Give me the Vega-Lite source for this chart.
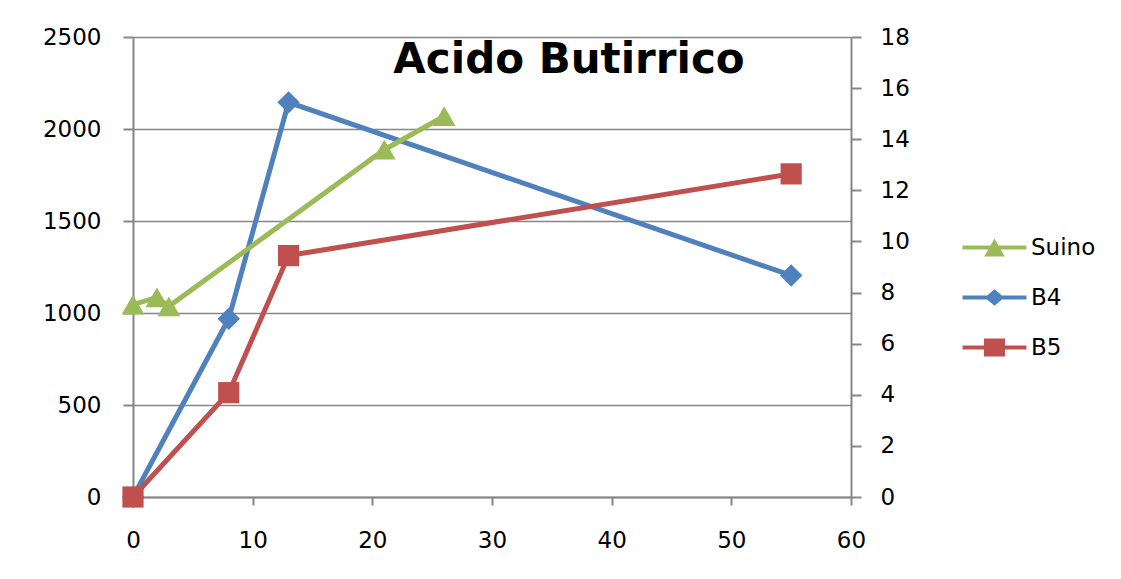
{
  "$schema": "https://vega.github.io/schema/vega-lite/v6.json",
  "width": 718,
  "height": 460,
  "autosize": {"type": "none"},
  "padding": {"left": 133, "top": 37, "right": 270, "bottom": 82},
  "background": "white",
  "title": {
    "text": "Acido Butirrico",
    "font": "DejaVu Sans",
    "fontWeight": "bold",
    "fontSize": 42,
    "color": "black",
    "anchor": "middle",
    "frame": "group",
    "baseline": "alphabetic",
    "offset": -37,
    "dx": 77,
    "dy": 52
  },
  "data": {
    "values": [
      {"series": "B4", "day": 0, "value": 0},
      {"series": "B4", "day": 8, "value": 969},
      {"series": "B4", "day": 13, "value": 2145},
      {"series": "B4", "day": 55, "value": 1204},
      {"series": "B5", "day": 0, "value": 0},
      {"series": "B5", "day": 8, "value": 567},
      {"series": "B5", "day": 13, "value": 1312},
      {"series": "B5", "day": 55, "value": 1756},
      {"series": "Suino", "day": 0, "value": 7.53},
      {"series": "Suino", "day": 2, "value": 7.81},
      {"series": "Suino", "day": 3, "value": 7.46},
      {"series": "Suino", "day": 21, "value": 13.59},
      {"series": "Suino", "day": 26, "value": 14.9}
    ]
  },
  "config": {
    "view": {"stroke": null},
    "axis": {
      "labelFont": "DejaVu Sans",
      "labelFontSize": 23,
      "labelColor": "black",
      "labelFlush": false,
      "format": "d",
      "domainColor": "#868686",
      "domainWidth": 2,
      "tickColor": "#868686",
      "tickWidth": 2,
      "tickSize": 10,
      "gridColor": "#868686",
      "gridWidth": 1.5,
      "title": null
    },
    "legend": {
      "orient": "none",
      "legendX": 850,
      "legendY": 199,
      "title": null,
      "labelFont": "DejaVu Sans",
      "labelFontSize": 23,
      "labelColor": "black",
      "symbolSize": 289,
      "rowPadding": 26,
      "labelOffset": 25,
      "padding": 0
    }
  },
  "layer": [
    {
      "transform": [{"filter": "datum.series !== 'Suino'"}],
      "encoding": {
        "x": {
          "field": "day",
          "type": "quantitative",
          "scale": {"domain": [0, 60], "nice": false},
          "axis": {"values": [0, 10, 20, 30, 40, 50, 60], "grid": false, "tickSize": 8, "labelPadding": 24}
        },
        "y": {
          "field": "value",
          "type": "quantitative",
          "scale": {"domain": [0, 2500], "nice": false},
          "axis": {"orient": "left", "values": [0, 500, 1000, 1500, 2000, 2500], "grid": true, "labelPadding": 22}
        },
        "color": {
          "field": "series",
          "type": "nominal",
          "scale": {"domain": ["Suino", "B4", "B5"], "range": ["#9BBB59", "#4F81BD", "#C0504D"]},
          "legend": {
            "encode": {
              "symbols": {
                "update": {
                  "shape": {"signal": "datum.value === 'Suino' ? 'M-3.76,-0.235H3.76V0.235H-3.76Z M-1.21,1.06L0,-1.06L1.21,1.06Z' : datum.value === 'B4' ? 'M-3.76,-0.235H3.76V0.235H-3.76Z M0,-0.96L1.15,0L0,0.96L-1.15,0Z' : 'M-3.76,-0.235H3.76V0.235H-3.76Z M-1.24,-1.06H1.24V1.06H-1.24Z'"},
                  "fill": {"scale": "color", "field": "value"},
                  "stroke": {"value": "transparent"},
                  "strokeWidth": {"value": 0},
                  "opacity": {"value": 1}
                }
              }
            }
          }
        }
      },
      "layer": [
        {"mark": {"type": "line", "strokeWidth": 5}},
        {
          "transform": [{"filter": "datum.series === 'B4'"}],
          "mark": {"type": "point", "shape": "diamond", "filled": true, "size": 500, "opacity": 1}
        },
        {
          "transform": [{"filter": "datum.series === 'B5'"}],
          "mark": {"type": "point", "shape": "square", "filled": true, "size": 450, "opacity": 1}
        }
      ]
    },
    {
      "transform": [{"filter": "datum.series === 'Suino'"}],
      "encoding": {
        "x": {
          "field": "day",
          "type": "quantitative",
          "scale": {"domain": [0, 60], "nice": false}
        },
        "y": {
          "field": "value",
          "type": "quantitative",
          "scale": {"domain": [0, 18], "nice": false},
          "axis": {"orient": "right", "values": [0, 2, 4, 6, 8, 10, 12, 14, 16, 18], "grid": false, "labelPadding": 19}
        },
        "color": {
          "field": "series",
          "type": "nominal",
          "scale": {"domain": ["Suino", "B4", "B5"], "range": ["#9BBB59", "#4F81BD", "#C0504D"]}
        }
      },
      "layer": [
        {"mark": {"type": "line", "strokeWidth": 5}},
        {
          "mark": {"type": "point", "shape": "triangle-up", "filled": true, "size": 520, "opacity": 1}
        }
      ]
    }
  ],
  "resolve": {"scale": {"y": "independent"}}
}
